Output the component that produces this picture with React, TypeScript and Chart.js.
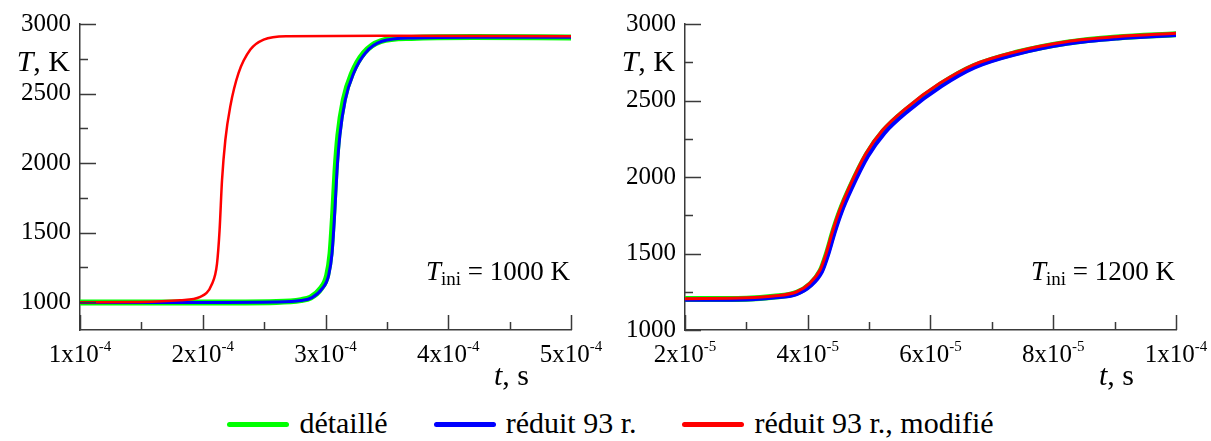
import React, { useEffect, useRef } from 'react';
import { Chart, registerables } from 'chart.js';

Chart.register(...registerables);

const FONT = '"Liberation Serif", "Times New Roman", serif';
const AXIS = '#3a3a3a';
const GREEN = '#00ff00';
const BLUE = '#0000ff';
const RED = '#ff0000';

// ---------- Left panel (T_ini = 1000 K), t in s, T in K ----------
const leftDetailT = [1.0e-4, 2.0e-4, 2.6e-4, 2.8e-4, 2.878e-4, 2.959e-4, 3.014e-4, 3.041e-4, 3.063e-4, 3.082e-4, 3.105e-4, 3.149e-4, 3.218e-4, 3.313e-4, 3.449e-4, 3.7e-4, 4.2e-4, 5.0e-4];
const leftDetailK = [998, 998, 1002, 1015, 1033, 1095, 1195, 1350, 1640, 1949, 2200, 2455, 2648, 2792, 2876, 2900, 2906, 2903];

const leftReducedT = [1.0e-4, 2.0e-4, 2.6e-4, 2.8e-4, 2.89e-4, 2.971e-4, 3.026e-4, 3.053e-4, 3.075e-4, 3.094e-4, 3.117e-4, 3.161e-4, 3.23e-4, 3.325e-4, 3.46e-4, 3.72e-4, 4.2e-4, 5.0e-4];
const leftReducedK = [998, 998, 1001, 1012, 1033, 1095, 1195, 1350, 1640, 1949, 2200, 2455, 2648, 2792, 2876, 2900, 2905, 2904];

const leftModifiedT = [1.0e-4, 1.5e-4, 1.816e-4, 1.98e-4, 2.075e-4, 2.116e-4, 2.137e-4, 2.157e-4, 2.184e-4, 2.224e-4, 2.292e-4, 2.388e-4, 2.496e-4, 2.687e-4, 3.449e-4, 5.0e-4];
const leftModifiedK = [1000, 1002, 1014, 1038, 1131, 1276, 1516, 1877, 2166, 2406, 2648, 2816, 2888, 2912, 2915, 2912];

// ---------- Right panel (T_ini = 1200 K) ----------
const rightDetailT = [2.0e-5, 3.0e-5, 3.44e-5, 3.82e-5, 4.04e-5, 4.21e-5, 4.31e-5, 4.42e-5, 4.53e-5, 4.69e-5, 4.96e-5, 5.23e-5, 5.61e-5, 6.16e-5, 6.7e-5, 7.4e-5, 8.22e-5, 9.03e-5, 1.0e-4];
const rightDetailK = [1202, 1205, 1217, 1243, 1298, 1386, 1496, 1647, 1777, 1929, 2145, 2297, 2440, 2603, 2724, 2812, 2878, 2912, 2933];

const rightReducedT = [2.0e-5, 3.0e-5, 3.44e-5, 3.82e-5, 4.05e-5, 4.23e-5, 4.33e-5, 4.44e-5, 4.55e-5, 4.71e-5, 4.98e-5, 5.25e-5, 5.63e-5, 6.18e-5, 6.72e-5, 7.42e-5, 8.24e-5, 9.05e-5, 1.0e-4];
const rightReducedK = [1198, 1200, 1212, 1235, 1290, 1380, 1490, 1640, 1770, 1920, 2135, 2287, 2430, 2594, 2716, 2805, 2872, 2906, 2928];

const rightModifiedT = [2.0e-5, 3.0e-5, 3.44e-5, 3.82e-5, 4.03e-5, 4.2e-5, 4.3e-5, 4.41e-5, 4.52e-5, 4.68e-5, 4.95e-5, 5.22e-5, 5.6e-5, 6.15e-5, 6.69e-5, 7.39e-5, 8.21e-5, 9.02e-5, 1.0e-4];
const rightModifiedK = [1205, 1210, 1222, 1250, 1305, 1392, 1501, 1654, 1784, 1937, 2155, 2307, 2449, 2612, 2732, 2819, 2884, 2917, 2939];

// ---------- Ticks ----------
const leftXMajor = [1e-4, 2e-4, 3e-4, 4e-4, 5e-4];
const leftXMinor = [1.5e-4, 2.5e-4, 3.5e-4, 4.5e-4];
const leftXLabels = [['1x10', '-4'], ['2x10', '-4'], ['3x10', '-4'], ['4x10', '-4'], ['5x10', '-4']];

const rightXMajor = [2e-5, 4e-5, 6e-5, 8e-5, 1e-4];
const rightXMinor = [3e-5, 5e-5, 7e-5, 9e-5];
const rightXLabels = [['2x10', '-5'], ['4x10', '-5'], ['6x10', '-5'], ['8x10', '-5'], ['1x10', '-4']];

const yMajor = [1000, 1500, 2000, 2500, 3000];
const yMinor = [1250, 1750, 2250, 2750];

const seriesNames = ['détaillé', 'réduit 93 r.', 'réduit 93 r., modifié'];
const seriesColors = [GREEN, BLUE, RED];

const CW = 605;
const CH = 400;

const decorPlugin = {
  id: 'decor',
  afterDraw(chart: any, _args: any, opts: any) {
    const { ctx, chartArea: a } = chart;
    const x = chart.scales.x;
    const y = chart.scales.y;
    ctx.save();
    ctx.strokeStyle = AXIS;
    ctx.lineWidth = 1.5;
    ctx.beginPath();
    for (const v of opts.yMajor) {
      const py = Math.round(y.getPixelForValue(v)) + 0.5;
      ctx.moveTo(a.left, py);
      ctx.lineTo(a.left + 16, py);
    }
    for (const v of opts.yMinor) {
      const py = Math.round(y.getPixelForValue(v)) + 0.5;
      ctx.moveTo(a.left, py);
      ctx.lineTo(a.left + 8, py);
    }
    for (const v of opts.xMajor) {
      const px = Math.round(x.getPixelForValue(v)) + 0.5;
      ctx.moveTo(px, a.bottom);
      ctx.lineTo(px, a.bottom - 15);
    }
    for (const v of opts.xMinor) {
      const px = Math.round(x.getPixelForValue(v)) + 0.5;
      ctx.moveTo(px, a.bottom);
      ctx.lineTo(px, a.bottom - 8);
    }
    ctx.stroke();

    ctx.fillStyle = '#000';
    ctx.textBaseline = 'alphabetic';
    ctx.textAlign = 'left';
    // x tick labels with superscript exponents
    opts.xMajor.forEach((v: number, i: number) => {
      const [m, e] = opts.xLabels[i];
      ctx.font = `25px ${FONT}`;
      const wm = ctx.measureText(m).width;
      ctx.font = `15px ${FONT}`;
      const we = ctx.measureText(e).width;
      const px = x.getPixelForValue(v);
      const sx = px - (wm + we) / 2;
      ctx.font = `25px ${FONT}`;
      ctx.fillText(m, sx, a.bottom + 32);
      ctx.font = `15px ${FONT}`;
      ctx.fillText(e, sx + wm, a.bottom + 21);
    });

    // "T, K"
    ctx.font = `italic 30px ${FONT}`;
    const wT = ctx.measureText('T').width;
    ctx.font = `30px ${FONT}`;
    const wK = ctx.measureText(', K').width;
    let sx = a.left - 10 - (wT + wK);
    ctx.font = `italic 30px ${FONT}`;
    ctx.fillText('T', sx, 71);
    ctx.font = `30px ${FONT}`;
    ctx.fillText(', K', sx + wT, 71);
    // "t, s"
    sx = a.right - 77;
    ctx.font = `italic 30px ${FONT}`;
    const wt = ctx.measureText('t').width;
    ctx.fillText('t', sx, a.bottom + 55);
    ctx.font = `30px ${FONT}`;
    ctx.fillText(', s', sx + wt, a.bottom + 55);

    // T_ini annotation
    const rest = ` = ${opts.tIni} K`;
    ctx.font = `italic 27px ${FONT}`;
    const w1 = ctx.measureText('T').width;
    ctx.font = `19px ${FONT}`;
    const w2 = ctx.measureText('ini').width;
    ctx.font = `27px ${FONT}`;
    const w3 = ctx.measureText(rest).width;
    sx = a.right - 1 - (w1 + w2 + w3);
    const by = a.bottom - 50;
    ctx.font = `italic 27px ${FONT}`;
    ctx.fillText('T', sx, by);
    ctx.font = `19px ${FONT}`;
    ctx.fillText('ini', sx + w1, by + 5);
    ctx.font = `27px ${FONT}`;
    ctx.fillText(rest, sx + w1 + w2, by);
    ctx.restore();
  },
};

function pts(ts: number[], ks: number[]) {
  return ts.map((t, i) => ({ x: t, y: ks[i] }));
}

function makeConfig(p: any) {
  const ds = (label: string, data: any, color: string, width: number, order: number) => ({
    label,
    data,
    borderColor: color,
    backgroundColor: color,
    borderWidth: width,
    pointRadius: 0,
    fill: false,
    cubicInterpolationMode: 'monotone',
    borderCapStyle: 'round',
    borderJoinStyle: 'round',
    order,
  });
  return {
    type: 'line',
    data: {
      datasets: [
        ds(seriesNames[0], p.green, seriesColors[0], 6, 3),
        ds(seriesNames[1], p.blue, seriesColors[1], p.blueWidth, 2),
        ds(seriesNames[2], p.red, seriesColors[2], p.redWidth, 1),
      ],
    },
    options: {
      animation: false,
      responsive: false,
      devicePixelRatio: 1,
      layout: { padding: { left: 0, right: 34, top: 24, bottom: 0 } },
      plugins: {
        legend: { display: false },
        tooltip: { enabled: false },
        decor: {
          xMajor: p.xMajor,
          xMinor: p.xMinor,
          xLabels: p.xLabels,
          yMajor,
          yMinor,
          tIni: p.tIni,
        },
      },
      scales: {
        x: {
          type: 'linear',
          min: p.xMin,
          max: p.xMax,
          afterFit: (s: any) => {
            s.height = 70;
          },
          grid: { display: false, drawTicks: false },
          border: { display: true, color: AXIS, width: 1.5 },
          ticks: { display: false },
        },
        y: {
          type: 'linear',
          min: p.yMin,
          max: 3000,
          afterBuildTicks: (s: any) => {
            s.ticks = yMajor.map((v) => ({ value: v }));
          },
          afterFit: (s: any) => {
            s.width = 80;
          },
          grid: { display: false, drawTicks: false },
          border: { display: true, color: AXIS, width: 1.5 },
          ticks: {
            autoSkip: false,
            padding: 9,
            color: '#000',
            font: { family: FONT, size: 25 },
            callback: (v: any) => String(v),
          },
        },
      },
    },
    plugins: [decorPlugin],
  };
}

function Panel({ left, params }: { left: number; params: any }) {
  const ref = useRef<HTMLCanvasElement | null>(null);
  useEffect(() => {
    if (!ref.current) return;
    const chart = new Chart(ref.current, makeConfig(params) as any);
    return () => chart.destroy();
  }, []);
  return (
    <canvas
      ref={ref}
      width={CW}
      height={CH}
      style={{ position: 'absolute', left, top: 0, width: CW, height: CH, display: 'block' }}
    />
  );
}

const leftParams = {
  green: pts(leftDetailT, leftDetailK),
  blue: pts(leftReducedT, leftReducedK),
  red: pts(leftModifiedT, leftModifiedK),
  blueWidth: 3,
  redWidth: 2.5,
  xMin: 1e-4,
  xMax: 5e-4,
  yMin: 800,
  xMajor: leftXMajor,
  xMinor: leftXMinor,
  xLabels: leftXLabels,
  tIni: '1000',
};

const rightParams = {
  green: pts(rightDetailT, rightDetailK),
  blue: pts(rightReducedT, rightReducedK),
  red: pts(rightModifiedT, rightModifiedK),
  blueWidth: 4,
  redWidth: 3,
  xMin: 2e-5,
  xMax: 1e-4,
  yMin: 1000,
  xMajor: rightXMajor,
  xMinor: rightXMinor,
  xLabels: rightXLabels,
  tIni: '1200',
};

export default function App() {
  return (
    <div style={{ position: 'absolute', left: 0, top: 0, width: 1211, height: 441, background: '#fff', overflow: 'hidden' }}>
      <Panel left={0} params={leftParams} />
      <Panel left={605} params={rightParams} />
      <div
        style={{
          position: 'absolute',
          left: 5,
          top: 406,
          width: 1211,
          display: 'flex',
          justifyContent: 'center',
          alignItems: 'center',
          gap: 46,
          fontFamily: FONT,
          fontSize: 30,
          lineHeight: '34px',
          color: '#000',
          whiteSpace: 'nowrap',
        }}
      >
        {seriesNames.map((name, i) => (
          <div key={name} style={{ display: 'flex', alignItems: 'center', gap: 10 }}>
            <span
              style={{
                display: 'inline-block',
                width: 62,
                height: 5,
                borderRadius: 3,
                background: seriesColors[i],
                position: 'relative',
                top: 1,
              }}
            />
            <span>{name}</span>
          </div>
        ))}
      </div>
    </div>
  );
}
